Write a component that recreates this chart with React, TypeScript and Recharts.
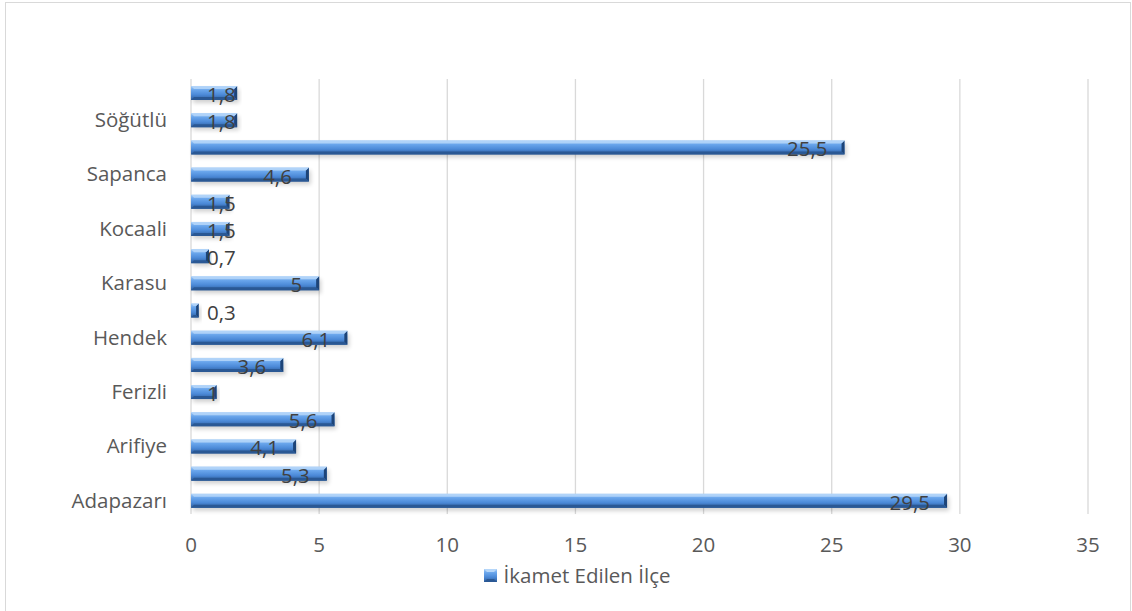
import { Bar, BarChart, CartesianGrid, LabelList, Legend, XAxis, YAxis } from "recharts";

const districts = [
  "Adapazarı", "Akyazı", "Arifiye", "Erenler", "Ferizli", "Geyve", "Hendek", "Karapürçek",
  "Karasu", "Kaynarca", "Kocaali", "Pamukova", "Sapanca", "Serdivan", "Söğütlü", "Taraklı",
];
const shares = [29.5, 5.3, 4.1, 5.6, 1, 3.6, 6.1, 0.3, 5, 0.7, 1.5, 1.5, 4.6, 25.5, 1.8, 1.8];
const xTicks = [0, 5, 10, 15, 20, 25, 30, 35];
const seriesName = "İkamet Edilen İlçe";

const data = districts.map((name, i) => ({ name, v: shares[i] }));

const FONT = "'Open Sans', Lato, sans-serif";
const TEXT = "#595959";
const FS = 20.5;

function BevelBar(props: any) {
  const { x, y, width, height } = props;
  if (!width || width <= 0) return null;
  const b = Math.min(3, width / 3);
  return (
    <g>
      <rect x={x + 2} y={y + 3} width={width} height={height} fill="#000" opacity={0.18} filter="url(#barShadow)" />
      <rect x={x} y={y} width={width} height={height} fill="url(#barFill)" />
      <polygon points={`${x + width - b},${y + b} ${x + width},${y} ${x + width},${y + height} ${x + width - b},${y + height - b}`} fill="#1d4478" />
      <polygon points={`${x},${y + height} ${x + b},${y + height - b} ${x + width - b},${y + height - b} ${x + width},${y + height}`} fill="#2a5894" />
      <polygon points={`${x},${y} ${x + width},${y} ${x + width - b},${y + b} ${x + b},${y + b}`} fill="#b5d6f9" opacity={0.85} />
    </g>
  );
}

function ValueLabel(props: any) {
  const { x, y, width, height, value } = props;
  const txt = String(value).replace(".", ",");
  const est = txt.split("").reduce((s: number, c: string) => s + (c === "," ? 5.4 : 11.7), 0);
  const end = x + width;
  const right = Math.max(end - 17, x + 16 + est);
  return (
    <text x={right} y={y + height / 2 + 1} textAnchor="end" dominantBaseline="central"
      fontSize={FS} fontFamily={FONT} fill="#404040">
      {txt}
    </text>
  );
}

function LegendBox() {
  return (
    <div style={{ display: "flex", justifyContent: "center", alignItems: "center", fontFamily: FONT, fontSize: FS, color: TEXT }}>
      <svg width={13} height={13} style={{ marginRight: 7, marginLeft: 22 }}>
        <rect x={0} y={0} width={13} height={13} fill="url(#barFill)" />
        <polygon points="0,0 13,0 10,3 3,3" fill="#b5d6f9" />
        <polygon points="0,13 3,10 10,10 13,13" fill="#2a5894" />
      </svg>
      <span>{seriesName}</span>
    </div>
  );
}

export default function App() {
  return (
    <div style={{ position: "absolute", left: 0, top: 0, width: 1132, height: 611, background: "#fff", overflow: "hidden" }}>
      <div style={{ position: "absolute", left: 5, top: 2, width: 1124, height: 700, border: "1px solid #d9d9d9" }} />
      <BarChart width={1132} height={611} data={data} layout="vertical"
        margin={{ top: 79, right: 44, left: 0, bottom: 67 }} barSize={14}>
        <defs>
          <linearGradient id="barFill" x1="0" y1="0" x2="0" y2="1">
            <stop offset="0%" stopColor="#a6cdf7" />
            <stop offset="28%" stopColor="#6aa6ec" />
            <stop offset="62%" stopColor="#4c8ad8" />
            <stop offset="100%" stopColor="#2d5d9c" />
          </linearGradient>
          <filter id="barShadow" x="-5%" y="-50%" width="110%" height="200%">
            <feGaussianBlur stdDeviation="2" />
          </filter>
        </defs>
        <CartesianGrid horizontal={false} stroke="#d9d9d9" strokeWidth={1.3} />
        <XAxis type="number" domain={[0, 35]} ticks={xTicks} axisLine={false} tickLine={false}
          tickMargin={17} height={30} tick={{ fill: TEXT, fontSize: FS, fontFamily: FONT }} />
        <YAxis type="category" dataKey="name" reversed width={191} interval={1} axisLine={false} tickLine={false}
          tickMargin={18} tick={{ fill: TEXT, fontSize: FS, fontFamily: FONT }} />
        <Legend layout="horizontal" verticalAlign="middle" align="center" content={<LegendBox />}
          wrapperStyle={{ top: 561, left: 0, width: 1132 }} />
        <Bar dataKey="v" name={seriesName} shape={<BevelBar />} isAnimationActive={false}>
          <LabelList dataKey="v" content={<ValueLabel />} />
        </Bar>
      </BarChart>
    </div>
  );
}
